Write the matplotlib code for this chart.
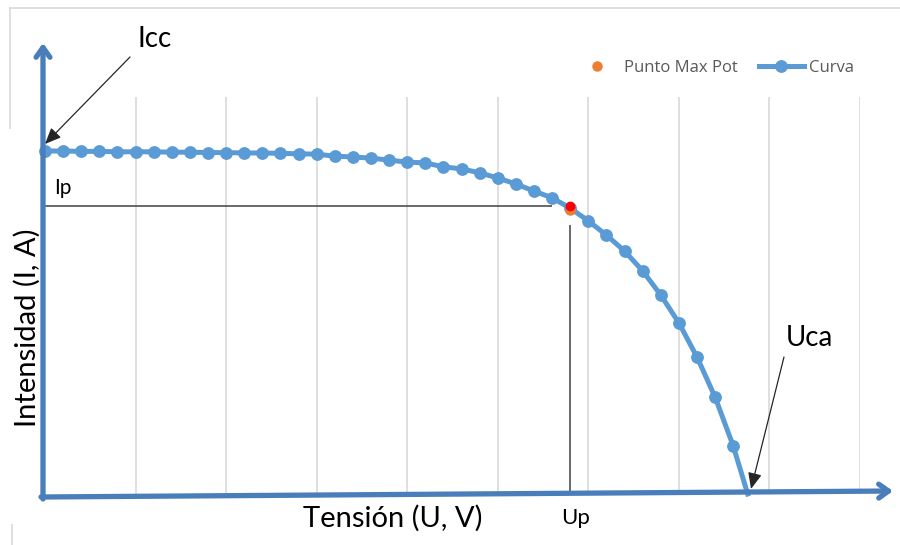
"""
Curva I-V de un panel fotovoltaico con punto de maxima potencia
"""
import numpy as np
import matplotlib.pyplot as plt
from matplotlib.lines import Line2D

# -----------------------------------
# Datos (V, A)
tension = [0, 1, 2, 3, 4, 5, 6, 7, 8, 9, 10, 11, 12, 13, 14, 15, 16, 17, 18, 19,
           20, 21, 22, 23, 24, 25, 26, 27, 28, 29, 30, 31, 32, 33, 34, 35, 36, 37, 38, 38.8]
intensidad = [8.64, 8.64, 8.63, 8.63, 8.62, 8.62, 8.62, 8.61, 8.61, 8.60,
              8.60, 8.59, 8.59, 8.58, 8.57, 8.56, 8.51, 8.49, 8.46, 8.41,
              8.36, 8.34, 8.24, 8.19, 8.09, 7.96, 7.81, 7.63, 7.46, 7.20,
              6.88, 6.52, 6.12, 5.62, 5.01, 4.31, 3.45, 2.44, 1.21, 0.0]
U_MAX = [29.0]          # Punto Max Pot
I_MAX = [7.15]
UP, IP = 29.0, 7.25     # punto marcado a mano (rojo)
U_LINEA_IP = 28.0       # fin de la linea horizontal de Ip
I_LINEA_UP = 6.78       # inicio de la linea vertical de Up

X_MAX, Y_MAX = 45, 10
X_GRID = np.arange(5, 50, 5)
# -----------------------------------

W, H = 900, 545
fig = plt.figure(figsize=(W / 100, H / 100), dpi=100)
ax = fig.add_axes([45 / W, 51 / H, 815 / W, 397 / H])
ax.set_xlim(0, X_MAX)
ax.set_ylim(0, Y_MAX)
for s in ax.spines.values():
    s.set_visible(False)
ax.set_xticks([])
ax.set_yticks([])

for g in X_GRID:
    ax.axvline(g, color='#D9D9D9', lw=1.2, zorder=0)


def px(x, y):
    # coordenadas de la imagen (origen arriba a la izquierda) -> figure pixels
    return (x, H - y)


# marco del grafico de Excel
GRIS = '#D9D9D9'
fig.add_artist(Line2D([10 / W, 1], [1 - 8 / H, 1 - 8 / H], color=GRIS, lw=1.2))
fig.add_artist(Line2D([10 / W, 10 / W], [1 - 8 / H, 1 - 128 / H], color=GRIS, lw=1.2))
fig.add_artist(Line2D([12 / W, 12 / W], [1 - 525 / H, 0], color=GRIS, lw=1.2))

# lineas de Ip y Up
ax.hlines(IP, 0, U_LINEA_IP, color='#404040', lw=1.1, zorder=2)
ax.vlines(UP, 0, I_LINEA_UP, color='#404040', lw=1.1, zorder=2)

# curva y punto de maxima potencia
ax.plot(tension, intensidad, color='#5B9BD5', lw=3.6, marker='o', ms=8.2,
        markevery=list(range(len(tension) - 1)), label='Curva', zorder=3, clip_on=False)
ax.plot(U_MAX, I_MAX, 'o', color='#ED7D31', ms=6.5, label='Punto Max Pot', zorder=4)
ax.plot([UP], [IP], 'o', color='#FF0000', ms=6, zorder=5)

# ejes dibujados con flechas
AZUL = '#4A7EBB'
ax.annotate('', xy=px(43, 43), xytext=px(43, 499), xycoords='figure pixels',
            textcoords='figure pixels',
            arrowprops=dict(arrowstyle='->,head_length=0.7,head_width=0.5', color=AZUL,
                            lw=3.8, shrinkA=0, shrinkB=0))
ax.annotate('', xy=px(893, 491), xytext=px(41, 497), xycoords='figure pixels',
            textcoords='figure pixels',
            arrowprops=dict(arrowstyle='->,head_length=0.7,head_width=0.5', color=AZUL,
                            lw=3.8, shrinkA=0, shrinkB=0))

# anotaciones
FUENTE = 'Lato'
flecha = dict(arrowstyle='-|>,head_length=0.7,head_width=0.3', color='#262626',
              lw=0.9, shrinkA=0, shrinkB=0, mutation_scale=14)
ax.annotate('', xy=px(45, 144), xytext=px(130, 57), xycoords='figure pixels',
            textcoords='figure pixels', arrowprops=flecha)
ax.annotate('', xy=px(751, 489), xytext=px(784, 357), xycoords='figure pixels',
            textcoords='figure pixels', arrowprops=flecha)

fig.text(155 / W, 1 - 39 / H, 'Icc', fontsize=20, family=FUENTE, ha='center', va='center')
fig.text(809 / W, 1 - 338 / H, 'Uca', fontsize=20, family=FUENTE, ha='center', va='center')
fig.text(63 / W, 1 - 188 / H, 'Ip', fontsize=15, family=FUENTE, ha='center', va='center')
fig.text(576 / W, 1 - 518 / H, 'Up', fontsize=16, family=FUENTE, ha='center', va='center')
fig.text(393 / W, 1 - 518 / H, 'Tensión (U, V)', fontsize=21, family=FUENTE,
         ha='center', va='center')
fig.text(27 / W, 1 - 328 / H, 'Intensidad (I, A)', fontsize=21, family=FUENTE,
         ha='center', va='center', rotation=90)

# leyenda
h, l = ax.get_legend_handles_labels()
leg = fig.legend(h[::-1], l[::-1], loc='center left', bbox_to_anchor=(574 / W, 1 - 68 / H),
                 ncol=2, frameon=False, prop={'family': 'Open Sans', 'size': 12},
                 handlelength=2.7, handletextpad=0.3, columnspacing=1.25,
                 borderpad=0, borderaxespad=0)
for t in leg.get_texts():
    t.set_color('#595959')

fig.savefig('out.png', dpi=100)
